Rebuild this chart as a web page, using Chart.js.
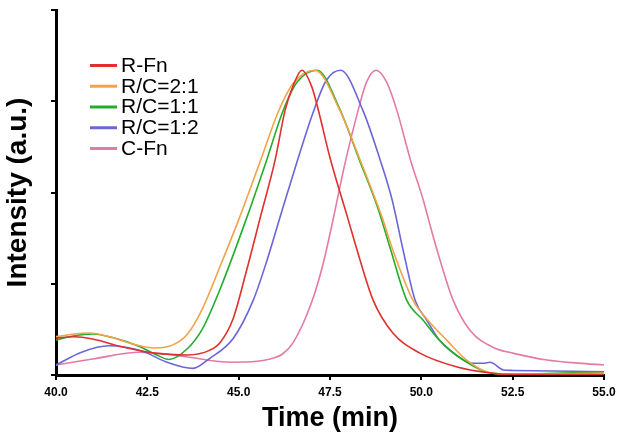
<!DOCTYPE html>
<html>
<head>
<meta charset="utf-8">
<script src="https://cdn.jsdelivr.net/npm/chart.js@4.4.0/dist/chart.umd.min.js"></script>
<style>
  html, body { margin: 0; padding: 0; background: #fff; }
  #wrap { width: 624px; height: 443px; }
</style>
</head>
<body>
<div id="wrap"><canvas id="chartGpc"></canvas></div>
<script>

/*Series names and colours, in legend order*/
let seriesNames = ["R-Fn", "R/C=2:1", "R/C=1:1", "R/C=1:2", "C-Fn"];
let seriesColors = ["#e0302e", "#f2a34a", "#22ad2a", "#6a66d8", "#e47aa6"];

/*Elution time (min) and intensity (a.u.), one pair per curve*/
let redTime = [40.0, 40.5, 41.0, 41.8, 42.7, 43.6, 44.2, 44.5, 44.85, 45.2, 45.6, 46.0, 46.27, 46.5, 46.73, 47.0, 47.17, 47.5, 48.0, 48.24, 48.68, 49.22, 49.96, 50.98, 51.9, 52.5, 55.0];
let redVals = [0.405, 0.42, 0.395, 0.31, 0.24, 0.22, 0.27, 0.36, 0.62, 1.12, 1.74, 2.36, 2.90, 3.18, 3.34, 3.16, 2.92, 2.38, 1.70, 1.37, 0.82, 0.46, 0.24, 0.088, 0.022, 0.005, 0.005];

let orangeTime = [40.0, 40.5, 40.9, 41.5, 42.0, 42.7, 43.2, 43.6, 44.0, 44.5, 45.0, 45.58, 46.08, 46.5, 47.09, 47.77, 48.32, 48.95, 49.22, 49.77, 50.18, 50.7, 51.25, 51.9, 52.5, 55.0];
let orangeVals = [0.42, 0.45, 0.46, 0.416, 0.35, 0.296, 0.33, 0.45, 0.72, 1.20, 1.70, 2.33, 2.88, 3.20, 3.34, 2.90, 2.36, 1.70, 1.37, 0.82, 0.60, 0.38, 0.16, 0.022, 0.01, 0.022];

let greenTime = [40.0, 40.5, 41.0, 41.6, 42.3, 42.7, 43.1, 43.6, 44.0, 44.5, 45.2, 45.77, 46.2, 46.6, 47.15, 47.75, 48.3, 48.8, 49.14, 49.6, 50.05, 50.5, 51.15, 51.9, 52.5, 55.0];
let greenVals = [0.384, 0.43, 0.45, 0.405, 0.31, 0.23, 0.17, 0.29, 0.50, 0.95, 1.70, 2.36, 2.88, 3.21, 3.34, 2.93, 2.36, 1.84, 1.40, 0.82, 0.60, 0.38, 0.164, 0.022, 0.01, 0.033];

let blueTime = [40.0, 40.7, 41.45, 42.4, 43.0, 43.75, 44.2, 44.85, 45.4, 45.77, 46.05, 46.2, 46.6, 47.04, 47.4, 47.79, 48.4, 48.87, 49.2, 49.5, 49.83, 50.15, 50.5, 51.15, 51.4, 51.7, 51.88, 52.25, 52.5, 55.0];
let blueVals = [0.11, 0.25, 0.32, 0.255, 0.146, 0.073, 0.18, 0.40, 0.82, 1.25, 1.62, 1.82, 2.34, 2.88, 3.23, 3.34, 2.90, 2.36, 1.92, 1.37, 0.82, 0.60, 0.38, 0.164, 0.128, 0.128, 0.14, 0.055, 0.05, 0.036];

let pinkTime = [40.0, 41.0, 42.3, 43.0, 43.6, 44.8, 45.5, 45.8, 46.2, 46.5, 47.0, 47.3, 47.55, 47.9, 48.27, 48.5, 48.76, 49.05, 49.33, 49.7, 50.05, 50.2, 50.43, 50.87, 51.33, 52.0, 52.5, 53.44, 54.3, 55.0];
let pinkVals = [0.11, 0.175, 0.25, 0.23, 0.197, 0.14, 0.15, 0.17, 0.23, 0.36, 0.80, 1.20, 1.64, 2.30, 2.90, 3.21, 3.34, 3.21, 2.90, 2.36, 1.92, 1.70, 1.37, 0.82, 0.49, 0.296, 0.24, 0.164, 0.13, 0.11];

/*X axis tick labels*/
let timeTicks = [40.0, 42.5, 45.0, 47.5, 50.0, 52.5, 55.0];

let allTimes = [redTime, orangeTime, greenTime, blueTime, pinkTime];
let allVals = [redVals, orangeVals, greenVals, blueVals, pinkVals];

function toPoints(times, vals) {
    return times.map(function (t, i) {
        return { x: t, y: vals[i] };
    });
}

let fontFamily = "'Liberation Sans', Arial, Helvetica, sans-serif";

/*Simple legend drawn in the top left corner of the plot, line + label*/
let cornerLegend = {
    id: "cornerLegend",
    afterDatasetsDraw: function (chart) {
        let ctx = chart.ctx;
        let area = chart.chartArea;
        ctx.save();
        ctx.font = "21px " + fontFamily;
        ctx.textBaseline = "middle";
        ctx.textAlign = "left";
        chart.data.datasets.forEach(function (ds, i) {
            let y = area.top + 55.5 + i * 20.75;
            ctx.strokeStyle = ds.borderColor;
            ctx.lineWidth = 3;
            ctx.beginPath();
            ctx.moveTo(area.left + 34, y);
            ctx.lineTo(area.left + 61, y);
            ctx.stroke();
            ctx.fillStyle = "#000";
            ctx.fillText(ds.label, area.left + 65, y + 0.5);
        });
        ctx.restore();
    }
};

let ctx = document.getElementById("chartGpc").getContext("2d");

let gpcChart = new Chart(ctx, {
    type: "line",
    data: {
        datasets: seriesNames.map(function (name, i) {
            return {
                label: name,
                data: toPoints(allTimes[i], allVals[i]),
                borderColor: seriesColors[i],
                backgroundColor: seriesColors[i],
                borderWidth: 1.6,
                pointRadius: 0,
                fill: false,
                cubicInterpolationMode: "monotone"
            };
        })
    },
    options: {
        responsive: true,
        maintainAspectRatio: false,
        animation: false,
        layout: {
            padding: { top: 10, right: 20, left: 0, bottom: 0 }
        },
        plugins: {
            legend: { display: false },
            tooltip: { enabled: false }
        },
        scales: {
            x: {
                type: "linear",
                min: 40,
                max: 55,
                afterBuildTicks: function (scale) {
                    scale.ticks = timeTicks.map(function (v) { return { value: v }; });
                },
                afterFit: function (scale) { scale.height = 68; },
                border: { display: true, color: "#000", width: 3 },
                grid: {
                    drawOnChartArea: false,
                    drawTicks: true,
                    tickLength: 5,
                    color: "#000",
                    lineWidth: 2
                },
                ticks: {
                    autoSkip: false,
                    maxRotation: 0,
                    padding: 5,
                    color: "#000",
                    font: { family: fontFamily, size: 12, weight: "bold" },
                    callback: function (v) { return Number(v).toFixed(1); }
                },
                title: {
                    display: true,
                    text: "Time (min)",
                    color: "#000",
                    font: { family: fontFamily, size: 27, weight: "bold" },
                    padding: { top: 0, bottom: 8 }
                }
            },
            y: {
                min: 0,
                max: 4,
                afterFit: function (scale) { scale.width = 56; },
                border: { display: true, color: "#000", width: 3 },
                grid: {
                    drawOnChartArea: false,
                    drawTicks: true,
                    tickLength: 5,
                    color: "#000",
                    lineWidth: 2
                },
                ticks: {
                    display: false,
                    stepSize: 1
                },
                title: {
                    display: true,
                    text: "Intensity (a.u.)",
                    color: "#000",
                    font: { family: fontFamily, size: 28, weight: "bold" },
                    padding: { top: 1, bottom: 0 }
                }
            }
        }
    },
    plugins: [cornerLegend]
});
</script>
</body>
</html>
